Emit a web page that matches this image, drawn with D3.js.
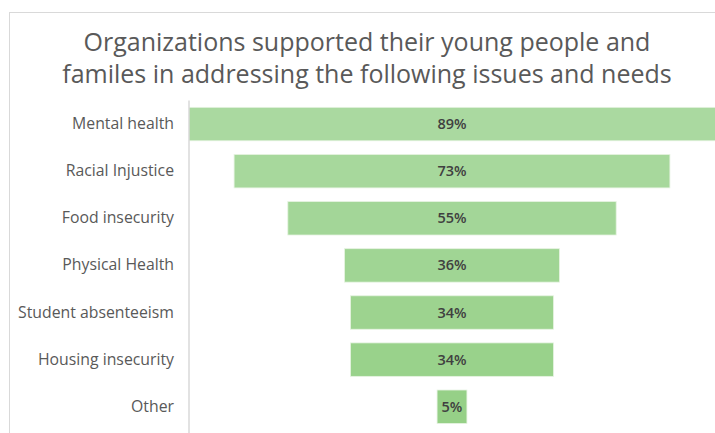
<!DOCTYPE html>
<html>
<head>
<meta charset="utf-8">
<script src="https://cdn.jsdelivr.net/npm/d3@7"></script>
<style>
  body { margin: 0; background: #fff; }
  svg { display: block; font-family: "Open Sans", Lato, sans-serif; }
</style>
</head>
<body>
<svg width="715" height="433"></svg>
<script>
const categories = ['Mental health', 'Racial Injustice', 'Food insecurity', 'Physical Health',
  'Student absenteeism', 'Housing insecurity', 'Other'];
const values = [89, 73, 55, 36, 34, 34, 5];
const titleLines = ['Organizations supported their young people and',
  'familes in addressing the following issues and needs'];

const svg = d3.select('svg');
const width = +svg.attr('width');
const height = +svg.attr('height');

// chart frame (cut off on the right and bottom in the source)
svg.append('rect')
  .attr('x', 9.5).attr('y', 12.5)
  .attr('width', 720).attr('height', 440)
  .attr('fill', '#fff')
  .attr('stroke', '#d9d9d9');

svg.append('text')
  .attr('text-anchor', 'middle')
  .attr('fill', '#595959')
  .attr('font-size', 25)
  .selectAll('tspan')
  .data(titleLines)
  .enter()
  .append('tspan')
  .attr('x', 367)
  .attr('y', (d, i) => 51 + i * 32)
  .text(d => d);

const axisX = 189;
const cx = 452;
const pxPerPct = 5.97;

const x = d3.scaleLinear()
  .domain([-50, 50])
  .range([cx - 50 * pxPerPct, cx + 50 * pxPerPct]);

const y = d3.scaleBand()
  .domain(categories)
  .range([100.5, 430.3])
  .paddingInner(0.29)
  .paddingOuter(0.145);

svg.append('clipPath').attr('id', 'plot')
  .append('rect')
  .attr('x', axisX).attr('y', 0)
  .attr('width', width - axisX).attr('height', height);

const color = d3.interpolateRgb('#aad9a0', '#96d087');

const g = svg.append('g').attr('clip-path', 'url(#plot)');
g.selectAll('rect')
  .data(values)
  .enter()
  .append('rect')
  .attr('x', d => x(-d / 2))
  .attr('y', (d, i) => y(categories[i]))
  .attr('width', d => x(d / 2) - x(-d / 2))
  .attr('height', y.bandwidth())
  .attr('fill', (d, i) => color(i / (values.length - 1)))
  .attr('stroke', '#e6f3e1')
  .attr('stroke-width', 0.8);

svg.selectAll('.val')
  .data(values)
  .enter()
  .append('text')
  .attr('class', 'val')
  .attr('x', x(0))
  .attr('y', (d, i) => y(categories[i]) + y.bandwidth() / 2)
  .attr('dy', '0.35em')
  .attr('text-anchor', 'middle')
  .attr('font-size', 14.5)
  .attr('font-weight', 600)
  .attr('fill', '#404040')
  .text(d => d + '%');

// category axis
const yAxis = svg.append('g')
  .attr('transform', `translate(${axisX},0)`)
  .call(d3.axisLeft(y).tickSize(0).tickPadding(15));
yAxis.select('.domain')
  .attr('stroke', '#d9d9d9')
  .attr('stroke-width', 1.5)
  .attr('d', `M0,100.5V${height}`);
yAxis.selectAll('text')
  .attr('font-family', '"Open Sans", Lato, sans-serif')
  .attr('font-size', 15.8)
  .attr('fill', '#595959');
</script>
</body>
</html>
